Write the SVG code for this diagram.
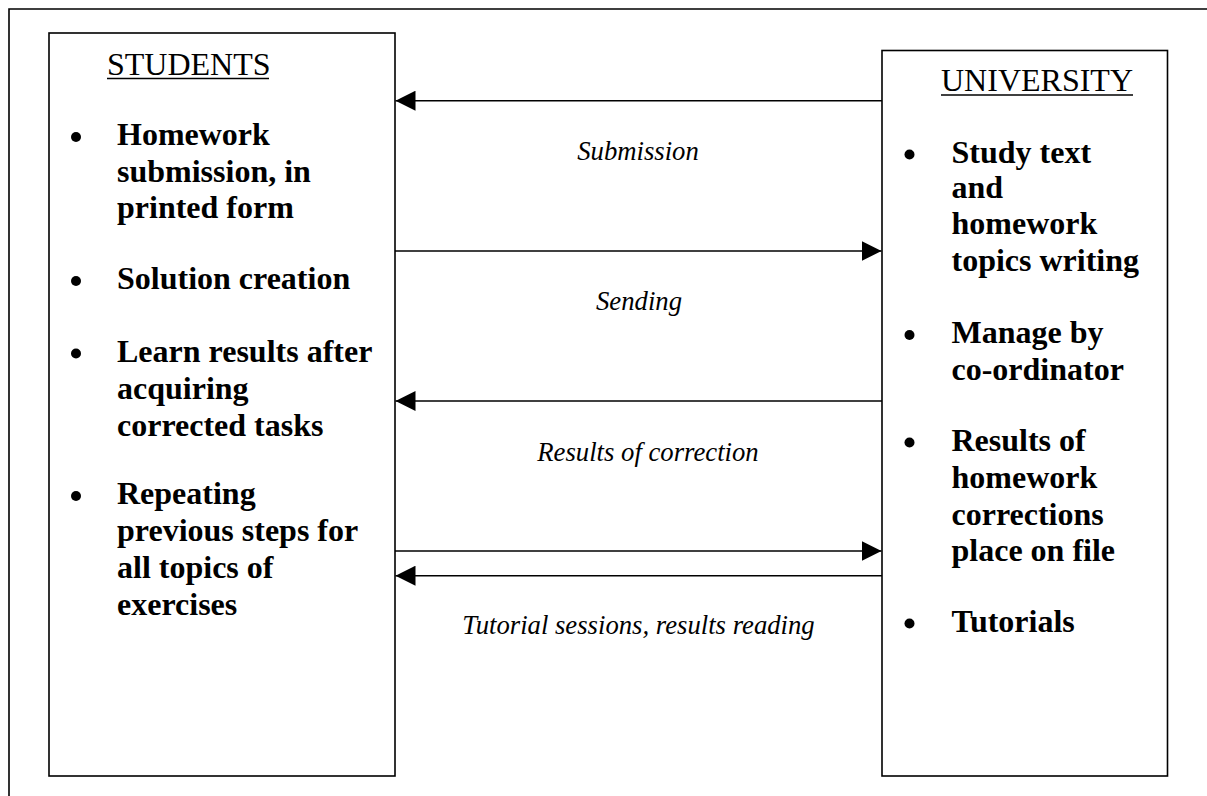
<svg xmlns="http://www.w3.org/2000/svg" width="1207" height="796" viewBox="0 0 1207 796">
<style>
.box{fill:#fff;stroke:#000;stroke-width:1.6}
.frame{fill:none;stroke:#000;stroke-width:1.6}
.title{font-family:"Liberation Serif","Times New Roman",serif;font-size:32px;fill:#000}
.item{font-family:"Liberation Serif","Times New Roman",serif;font-size:32px;font-weight:bold;fill:#000}
.lbl{font-family:"Liberation Serif","Times New Roman",serif;font-size:26.7px;font-style:italic;fill:#000;text-anchor:middle}
.conn{stroke:#000;stroke-width:1.6;fill:none}
.ul{stroke:#000;stroke-width:1.6}
</style>
<defs>
<marker id="ah" viewBox="0 0 20 20" refX="20" refY="10" markerWidth="20" markerHeight="20" markerUnits="userSpaceOnUse" orient="auto">
<path d="M0,0 L20,10 L0,20 Z" fill="#000"/>
</marker>
</defs>
<rect width="1207" height="796" fill="#fff"/>
<path class="frame" d="M9,796 V9 H1207"/>
<g id="students">
<rect class="box" x="49" y="33" width="346" height="743"/>
<text class="title" x="107" y="75">STUDENTS</text>
<line class="ul" x1="107" y1="78.5" x2="269" y2="78.5"/>
<g class="item">
<circle cx="76" cy="137" r="5"/>
<text x="117" y="145">Homework</text>
<text x="117" y="181.7">submission, in</text>
<text x="117" y="218.3">printed form</text>
<circle cx="76" cy="281" r="5"/>
<text x="117" y="289.3">Solution creation</text>
<circle cx="76" cy="353.5" r="5"/>
<text x="117" y="361.7">Learn results after</text>
<text x="117" y="399">acquiring</text>
<text x="117" y="435.5">corrected tasks</text>
<circle cx="76" cy="496" r="5"/>
<text x="117" y="504">Repeating</text>
<text x="117" y="540.7">previous steps for</text>
<text x="117" y="577.7">all topics of</text>
<text x="117" y="614.5">exercises</text>
</g>
</g>
<g id="university">
<rect class="box" x="882" y="50.5" width="285.5" height="725.5"/>
<text class="title" x="941" y="91">UNIVERSITY</text>
<line class="ul" x1="941" y1="95" x2="1133" y2="95"/>
<g class="item">
<circle cx="909.5" cy="154.5" r="5"/>
<text x="951.5" y="162.7">Study text</text>
<text x="951.5" y="198">and</text>
<text x="951.5" y="234.3">homework</text>
<text x="951.5" y="270.5">topics writing</text>
<circle cx="909.5" cy="335" r="5"/>
<text x="951.5" y="343">Manage by</text>
<text x="951.5" y="380">co-ordinator</text>
<circle cx="909.5" cy="442.5" r="5"/>
<text x="951.5" y="450.7">Results of</text>
<text x="951.5" y="488.3">homework</text>
<text x="951.5" y="524.5">corrections</text>
<text x="951.5" y="560.7">place on file</text>
<circle cx="909.5" cy="623.5" r="5"/>
<text x="951.5" y="631.7">Tutorials</text>
</g>
</g>
<g id="connectors">
<line class="conn" x1="882" y1="100.7" x2="395.5" y2="100.7" marker-end="url(#ah)"/>
<line class="conn" x1="395" y1="251" x2="881.5" y2="251" marker-end="url(#ah)"/>
<line class="conn" x1="882" y1="401" x2="395.5" y2="401" marker-end="url(#ah)"/>
<line class="conn" x1="395" y1="551" x2="881.5" y2="551" marker-end="url(#ah)"/>
<line class="conn" x1="882" y1="575.7" x2="395.5" y2="575.7" marker-end="url(#ah)"/>
<text class="lbl" x="638" y="160">Submission</text>
<text class="lbl" x="639" y="310">Sending</text>
<text class="lbl" x="648" y="460.7">Results of correction</text>
<text class="lbl" x="638.5" y="634.3">Tutorial sessions, results reading</text>
</g>
</svg>
